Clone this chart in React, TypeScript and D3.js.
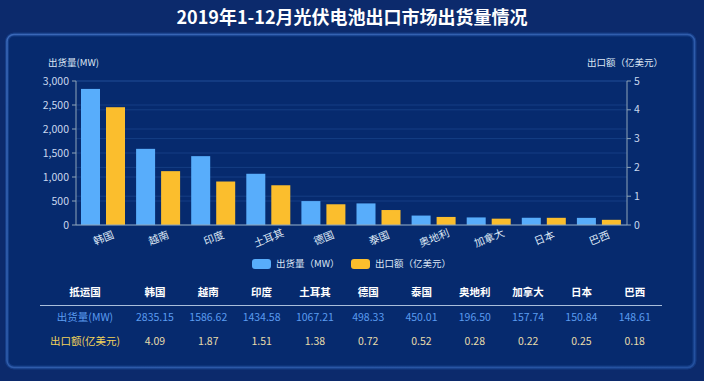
import React from "react";
import * as d3 from "d3";

const categories = ["韩国", "越南", "印度", "土耳其", "德国", "泰国", "奥地利", "加拿大", "日本", "巴西"];
const shipment = [2835.15, 1586.62, 1434.58, 1067.21, 498.33, 450.01, 196.5, 157.74, 150.84, 148.61];
const exportValue = [4.09, 1.87, 1.51, 1.38, 0.72, 0.52, 0.28, 0.22, 0.25, 0.18];
const leftTicks = [0, 500, 1000, 1500, 2000, 2500, 3000];
const rightTicks = [0, 1, 2, 3, 4, 5];
const shipmentLabels = ["2835.15", "1586.62", "1434.58", "1067.21", "498.33", "450.01", "196.50", "157.74", "150.84", "148.61"];
const exportLabels = ["4.09", "1.87", "1.51", "1.38", "0.72", "0.52", "0.28", "0.22", "0.25", "0.18"];

const W = 704, H = 381;
const FONT = "'Noto Sans CJK SC', 'Noto Sans', sans-serif";
const BLUE = "#58adfb";
const YELLOW = "#fbbe2d";

export default function App() {
  const x = d3.scaleBand<string>().domain(categories).range([76, 627]).paddingInner(0).paddingOuter(0);
  const x1 = d3.scaleBand<string>().domain(["s", "e"]).range([5, 49]).paddingInner(0.24).paddingOuter(0);
  const yL = d3.scaleLinear().domain([0, 3000]).range([225, 81]);
  const yR = d3.scaleLinear().domain([0, 5]).range([225, 81]);
  const fmt = d3.format(",");
  const colX = (i: number) => 155 + i * 53.3;
  const axisColor = "#8ea4b8";
  const labelColor = "#c9d8ef";

  return (
    <svg width={W} height={H} style={{ position: "absolute", left: 0, top: 0 }} fontFamily={FONT}>
      <defs>
        <linearGradient id="panelStroke" x1="0" y1="0" x2="1" y2="1">
          <stop offset="0" stopColor="#3a68b8" />
          <stop offset="1" stopColor="#24519f" />
        </linearGradient>
      </defs>
      <rect x={0} y={0} width={W} height={H} fill="#0c2a6c" />
      <text x={352} y={24} textAnchor="middle" fill="#ffffff" fontSize={18} fontWeight="bold">
        2019年1-12月光伏电池出口市场出货量情况
      </text>
      <rect x={7} y={34.5} width={687.5} height={333} rx={7} fill="#062a6e" stroke="#1c4a98" strokeWidth={4} strokeOpacity={0.6} />
      <rect x={7} y={34.5} width={687.5} height={333} rx={7} fill="none" stroke="url(#panelStroke)" strokeWidth={1.5} />

      {/* grid lines */}
      {leftTicks.map((t) => (
        <line key={"gl" + t} x1={76} x2={627} y1={yL(t)} y2={yL(t)} stroke="#2a5aa0" strokeOpacity={0.55} strokeWidth={0.8} />
      ))}
      {rightTicks.map((t) => (
        <line key={"gr" + t} x1={76} x2={627} y1={yR(t)} y2={yR(t)} stroke="#2a5aa0" strokeOpacity={0.55} strokeWidth={0.8} />
      ))}

      {/* bars */}
      {categories.map((c, i) => (
        <g key={c}>
          <rect x={(x(c) as number) + (x1("s") as number)} y={yL(shipment[i])} width={x1.bandwidth()} height={225 - yL(shipment[i])} fill={BLUE} />
          <rect x={(x(c) as number) + (x1("e") as number)} y={yR(exportValue[i])} width={x1.bandwidth()} height={225 - yR(exportValue[i])} fill={YELLOW} />
        </g>
      ))}

      {/* axes */}
      <line x1={76} x2={76} y1={81} y2={225} stroke={axisColor} strokeWidth={1} />
      <line x1={627} x2={627} y1={81} y2={225} stroke={axisColor} strokeWidth={1} />
      <line x1={76} x2={627} y1={225} y2={225} stroke={axisColor} strokeWidth={1} />
      {leftTicks.map((t) => (
        <g key={"lt" + t}>
          <line x1={72} x2={76} y1={yL(t)} y2={yL(t)} stroke={axisColor} />
          <text x={69} y={yL(t)} dy="0.35em" textAnchor="end" fill={labelColor} fontSize={10.5}>{fmt(t)}</text>
        </g>
      ))}
      {rightTicks.map((t) => (
        <g key={"rt" + t}>
          <line x1={627} x2={631} y1={yR(t)} y2={yR(t)} stroke={axisColor} />
          <text x={634} y={yR(t)} dy="0.35em" textAnchor="start" fill={labelColor} fontSize={10.5}>{t}</text>
        </g>
      ))}
      {categories.map((c) => {
        const cx = (x(c) as number) + x.bandwidth() / 2;
        return (
          <text key={"xl" + c} x={0} y={0} transform={`translate(${cx},${238}) rotate(-22)`} textAnchor="middle" dy="0.35em" fill="#dde7f5" fontSize={10.5}>
            {c}
          </text>
        );
      })}

      <text x={48} y={66} fill="#dde7f5" fontSize={9.5}>出货量(MW)</text>
      <text x={663} y={66} textAnchor="end" fill="#dde7f5" fontSize={9.5}>出口额（亿美元）</text>

      {/* legend */}
      <rect x={252} y={259} width={19} height={10} rx={3} fill={BLUE} />
      <text x={276} y={264} dy="0.35em" fill="#dde7f5" fontSize={9.5}>出货量（MW）</text>
      <rect x={351} y={259} width={19} height={10} rx={3} fill={YELLOW} />
      <text x={375} y={264} dy="0.35em" fill="#dde7f5" fontSize={9.5}>出口额（亿美元）</text>

      {/* table */}
      <text x={85} y={292} dy="0.35em" textAnchor="middle" fill="#ffffff" fontSize={10.5} fontWeight="bold">抵运国</text>
      {categories.map((c, i) => (
        <text key={"th" + c} x={colX(i)} y={292} dy="0.35em" textAnchor="middle" fill="#ffffff" fontSize={10.5} fontWeight="bold">{c}</text>
      ))}
      <line x1={40} x2={662} y1={305.5} y2={305.5} stroke="#a9bedb" strokeWidth={1} />
      <text x={85} y={317} dy="0.35em" textAnchor="middle" fill="#5b9cf0" fontSize={10.5}>出货量(MW)</text>
      {shipmentLabels.map((v, i) => (
        <text key={"s" + i} x={colX(i)} y={317} dy="0.35em" textAnchor="middle" fill="#5b9cf0" fontSize={10.5}>{v}</text>
      ))}
      <text x={85} y={341} dy="0.35em" textAnchor="middle" fill="#f2d35a" fontSize={10.5}>出口额(亿美元)</text>
      {exportLabels.map((v, i) => (
        <text key={"e" + i} x={colX(i)} y={341} dy="0.35em" textAnchor="middle" fill="#e6dcab" fontSize={10.5}>{v}</text>
      ))}
    </svg>
  );
}
